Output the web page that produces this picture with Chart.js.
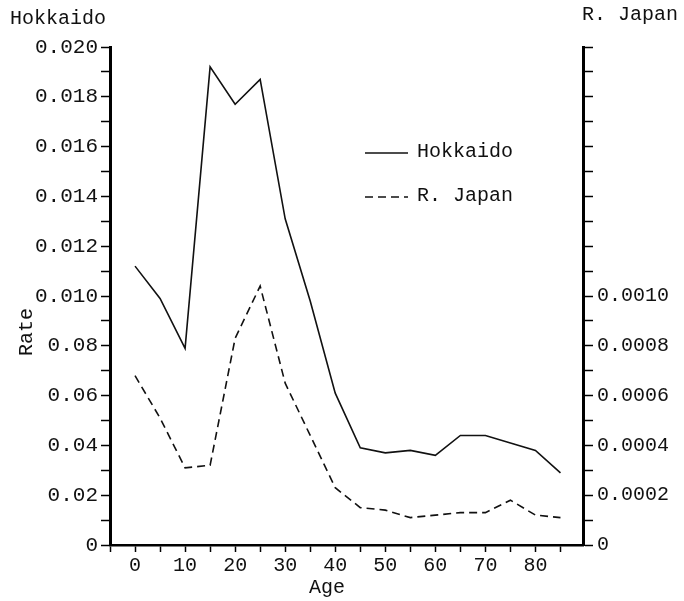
<!DOCTYPE html>
<html><head><meta charset="utf-8">
<script src="https://cdn.jsdelivr.net/npm/chart.js@4.4.1/dist/chart.umd.min.js"></script>
<style>html,body{margin:0;padding:0;background:#fff}#wrap{width:684px;height:601px}</style>
</head><body><div id="wrap"><canvas id="c" width="684" height="601"></canvas></div>
<script>
const ages = [0,5,10,15,20,25,30,35,40,45,50,55,60,65,70,75,80,85];
const hokkaido = [0.0112,0.0099,0.0079,0.0192,0.0177,0.0187,0.0131,0.0098,0.0061,0.0039,0.0037,0.0038,0.0036,0.0044,0.0044,0.0041,0.0038,0.0029];
const japan = [0.00068,0.00051,0.00031,0.00032,0.00083,0.00104,0.00065,0.00044,0.00023,0.00015,0.00014,0.00011,0.00012,0.00013,0.00013,0.00018,0.00012,0.00011];
const seriesNames = ['Hokkaido','R. Japan'];
const leftTickLabels = ['0','0.02','0.04','0.06','0.08','0.010','0.012','0.014','0.016','0.018','0.020'];
const rightTickLabels = ['0','0.0002','0.0004','0.0006','0.0008','0.0010'];
const xTickLabels = ['0','10','20','30','40','50','60','70','80'];
const xTitle = 'Age';
const yTitle = 'Rate';

const FONT = 'Liberation Mono';
const INK = '#111';

const textPlugin = {
  id: 'textPlugin',
  afterDraw(chart) {
    const ctx = chart.ctx, a = chart.chartArea;
    ctx.save();
    ctx.fillStyle = INK;
    ctx.font = '20px "' + FONT + '"';
    ctx.textBaseline = 'middle';
    ctx.textAlign = 'left';
    // axis headers
    ctx.fillText(seriesNames[0], a.left - 100, a.top - 28);
    ctx.fillText(seriesNames[1], a.right - 1, a.top - 32);
    // x title
    ctx.textAlign = 'center';
    ctx.fillText(xTitle, a.left + 217, a.bottom + 43);
    // y title
    ctx.save();
    ctx.translate(a.left - 83, a.top + 285);
    ctx.rotate(-Math.PI / 2);
    ctx.fillText(yTitle, 0, 0);
    ctx.restore();
    // legend
    const lx = a.left + 255, ly1 = a.top + 106, ly2 = a.top + 150;
    const ds = chart.data.datasets;
    [ly1, ly2].forEach((ly, i) => {
      ctx.save();
      ctx.strokeStyle = ds[i].borderColor;
      ctx.lineWidth = ds[i].borderWidth;
      ctx.setLineDash(ds[i].borderDash || []);
      ctx.beginPath();
      ctx.moveTo(lx, ly);
      ctx.lineTo(lx + 43, ly);
      ctx.stroke();
      ctx.restore();
      ctx.textAlign = 'left';
      ctx.fillText(ds[i].label, lx + 52, ly - 1);
    });
    ctx.restore();
  }
};

const tickFont = { family: FONT, size: 20 };

new Chart(document.getElementById('c'), {
  type: 'line',
  data: {
    datasets: [
      {
        label: seriesNames[0],
        data: ages.map((a, i) => ({ x: a, y: hokkaido[i] })),
        yAxisID: 'y',
        borderColor: '#111',
        borderWidth: 1.6,
        pointRadius: 0,
        tension: 0,
        fill: false
      },
      {
        label: seriesNames[1],
        data: ages.map((a, i) => ({ x: a, y: japan[i] })),
        yAxisID: 'y1',
        borderColor: '#111',
        borderWidth: 1.6,
        borderDash: [8, 5],
        pointRadius: 0,
        tension: 0,
        fill: false
      }
    ]
  },
  options: {
    responsive: false,
    animation: false,
    devicePixelRatio: 1,
    layout: { padding: { top: 47, left: 0, right: 0, bottom: 0 } },
    plugins: { legend: { display: false }, tooltip: { enabled: false } },
    scales: {
      x: {
        type: 'linear',
        min: -5,
        max: 89.5,
        afterFit(s) { s.height = 56; },
        border: { display: true, width: 2.5, color: '#000' },
        grid: { display: true, drawOnChartArea: false, drawTicks: true, tickLength: 7, tickColor: '#000', tickWidth: 1.5 },
        ticks: {
          stepSize: 5, autoSkip: false, includeBounds: false, maxRotation: 0, padding: 2,
          color: INK, font: tickFont,
          callback: (v) => xTickLabels.includes(String(v)) ? String(v) : ''
        }
      },
      y: {
        position: 'left',
        min: 0,
        max: 0.02,
        afterFit(s) { s.width = 110; },
        border: { display: true, width: 3, color: '#000' },
        grid: { display: true, drawOnChartArea: false, drawTicks: true, tickLength: 9, tickColor: '#000', tickWidth: 1.5 },
        ticks: {
          stepSize: 0.001, autoSkip: false, padding: 3, color: INK, font: { family: FONT, size: 21 },
          callback: (v) => { const i = Math.round(v / 0.001); return i % 2 === 0 ? leftTickLabels[i / 2] : ''; }
        }
      },
      y1: {
        position: 'right',
        min: 0,
        max: 0.002,
        afterFit(s) { s.width = 101; },
        border: { display: true, width: 3, color: '#000' },
        grid: { display: true, drawOnChartArea: false, drawTicks: true, tickLength: 10, tickColor: '#000', tickWidth: 1.5 },
        ticks: {
          stepSize: 0.0001, autoSkip: false, padding: 4, color: INK, font: tickFont,
          callback: (v) => { const i = Math.round(v / 0.0001); return (i % 2 === 0 && i <= 10) ? rightTickLabels[i / 2] : ''; }
        }
      }
    }
  },
  plugins: [textPlugin]
});
</script>
</body></html>
